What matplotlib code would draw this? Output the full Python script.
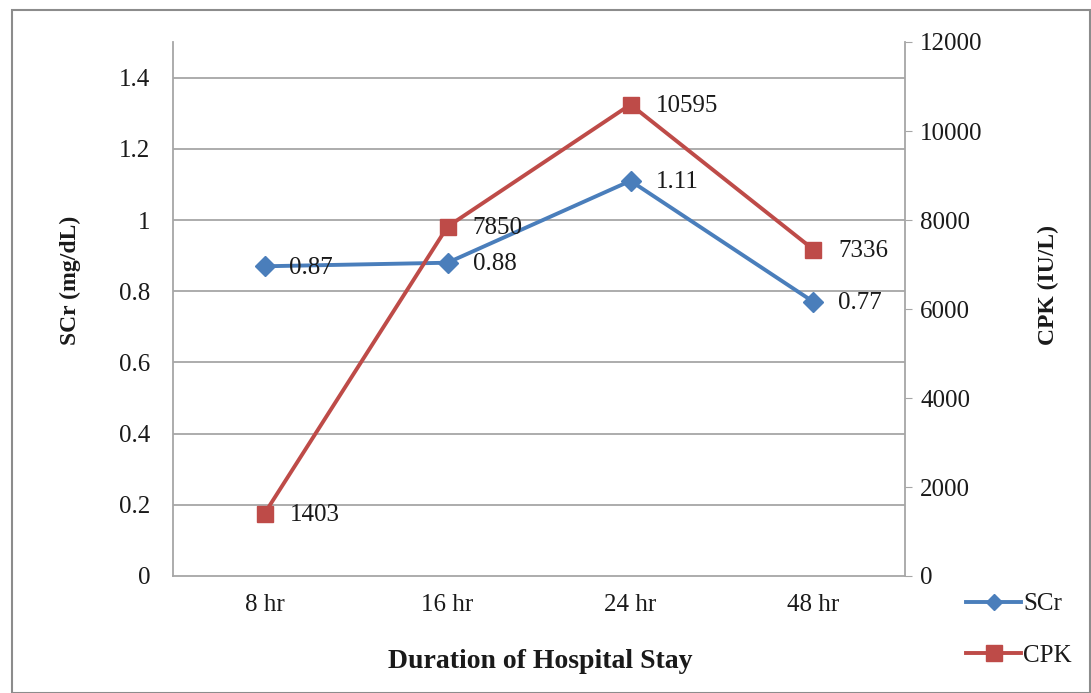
import matplotlib
matplotlib.use("Agg")
import matplotlib.pyplot as plt
from matplotlib.patches import Rectangle

categories = ["8 hr", "16 hr", "24 hr", "48 hr"]
scr = [0.87, 0.88, 1.11, 0.77]
cpk = [1403, 7850, 10595, 7336]
scr_ticks = [0, 0.2, 0.4, 0.6, 0.8, 1, 1.2, 1.4]
cpk_ticks = [0, 2000, 4000, 6000, 8000, 10000, 12000]

plt.rcParams['font.family'] = ['Liberation Serif', 'DejaVu Serif']

blue = '#4A7EBB'
red = '#BE4B48'
grid_c = '#A6A6A6'
text_c = '#1A1A1A'

W, H = 1091, 693
fig = plt.figure(figsize=(W / 100, H / 100), dpi=100)
fig.patches.append(Rectangle((12 / W, 0), 1 - 12 / W - 0.001, 1 - 10 / H,
                             transform=fig.transFigure, fill=False,
                             edgecolor='#8C8C8C', linewidth=1.5))

ax = fig.add_axes([173 / W, 1 - 576 / H, (905 - 173) / W, (576 - 42) / H])
ax2 = ax.twinx()

x = list(range(len(categories)))
ax.set_xlim(-0.5, len(categories) - 0.5)
ax.set_ylim(0, 1.5)
ax2.set_ylim(0, 12000)

ax.set_yticks(scr_ticks)
ax.set_yticklabels([f"{t:g}" for t in scr_ticks])
ax2.set_yticks(cpk_ticks)
ax2.set_yticklabels([str(t) for t in cpk_ticks])
ax.set_xticks(x)
ax.set_xticklabels(categories)

for t in scr_ticks[1:]:
    ax.axhline(t, color=grid_c, linewidth=1.3, zorder=0)

ax.spines['top'].set_visible(False)
ax2.spines['top'].set_visible(False)
ax.spines['right'].set_visible(False)
ax2.spines['left'].set_visible(False)
ax2.spines['bottom'].set_visible(False)
ax.spines['left'].set_color(grid_c)
ax.spines['bottom'].set_color(grid_c)
ax2.spines['right'].set_color(grid_c)
for s in ('left', 'bottom'):
    ax.spines[s].set_linewidth(1.3)
ax2.spines['right'].set_linewidth(1.3)

ax.tick_params(axis='y', length=0, labelsize=18, pad=16.5, labelcolor=text_c)
ax.tick_params(axis='x', length=0, labelsize=18, pad=13, labelcolor=text_c)
ax2.tick_params(axis='y', length=5, color=grid_c, labelsize=18, pad=6, labelcolor=text_c)

fig.text(540 / W, 1 - 662 / H, "Duration of Hospital Stay", fontsize=20,
         fontweight='bold', ha='center', va='center', color=text_c)
fig.text(70 / W, 1 - 280 / H, "SCr (mg/dL)", fontsize=17, fontweight='bold',
         rotation=90, ha='center', va='center', color=text_c)
fig.text(1048 / W, 1 - 285 / H, "CPK (IU/L)", fontsize=17, fontweight='bold',
         rotation=90, ha='center', va='center', color=text_c)

ax2.set_zorder(ax.get_zorder() + 1)
ax2.patch.set_visible(False)
l2, = ax2.plot(x, cpk, color=red, marker='s', markersize=12, linewidth=2.8,
               markeredgecolor=red, label='CPK', zorder=3)
l1, = ax2.plot([], [], color=blue, marker='D', markersize=8, linewidth=2.8, label='SCr')
ax.plot(x, scr, color=blue, marker='D', markersize=10, linewidth=2.8, zorder=3)

for xi, v in zip(x, scr):
    ax.annotate(f"{v:g}", (xi, v), xytext=(18, -1), textcoords='offset points',
                fontsize=18, va='center', ha='left', color=text_c)
for xi, v in zip(x, cpk):
    ax2.annotate(str(v), (xi, v), xytext=(18, -1), textcoords='offset points',
                 fontsize=18, va='center', ha='left', color=text_c)

leg = fig.legend(handles=[l1, l2], labels=['SCr', 'CPK'],
                 loc='upper left', bbox_to_anchor=(966 / W, 1 - 593 / H),
                 frameon=False, fontsize=18, handlelength=2.2, handletextpad=0.1,
                 labelspacing=1.15, borderpad=0, borderaxespad=0)
for t in leg.get_texts():
    t.set_color(text_c)

fig.savefig("out.png", dpi=100)
